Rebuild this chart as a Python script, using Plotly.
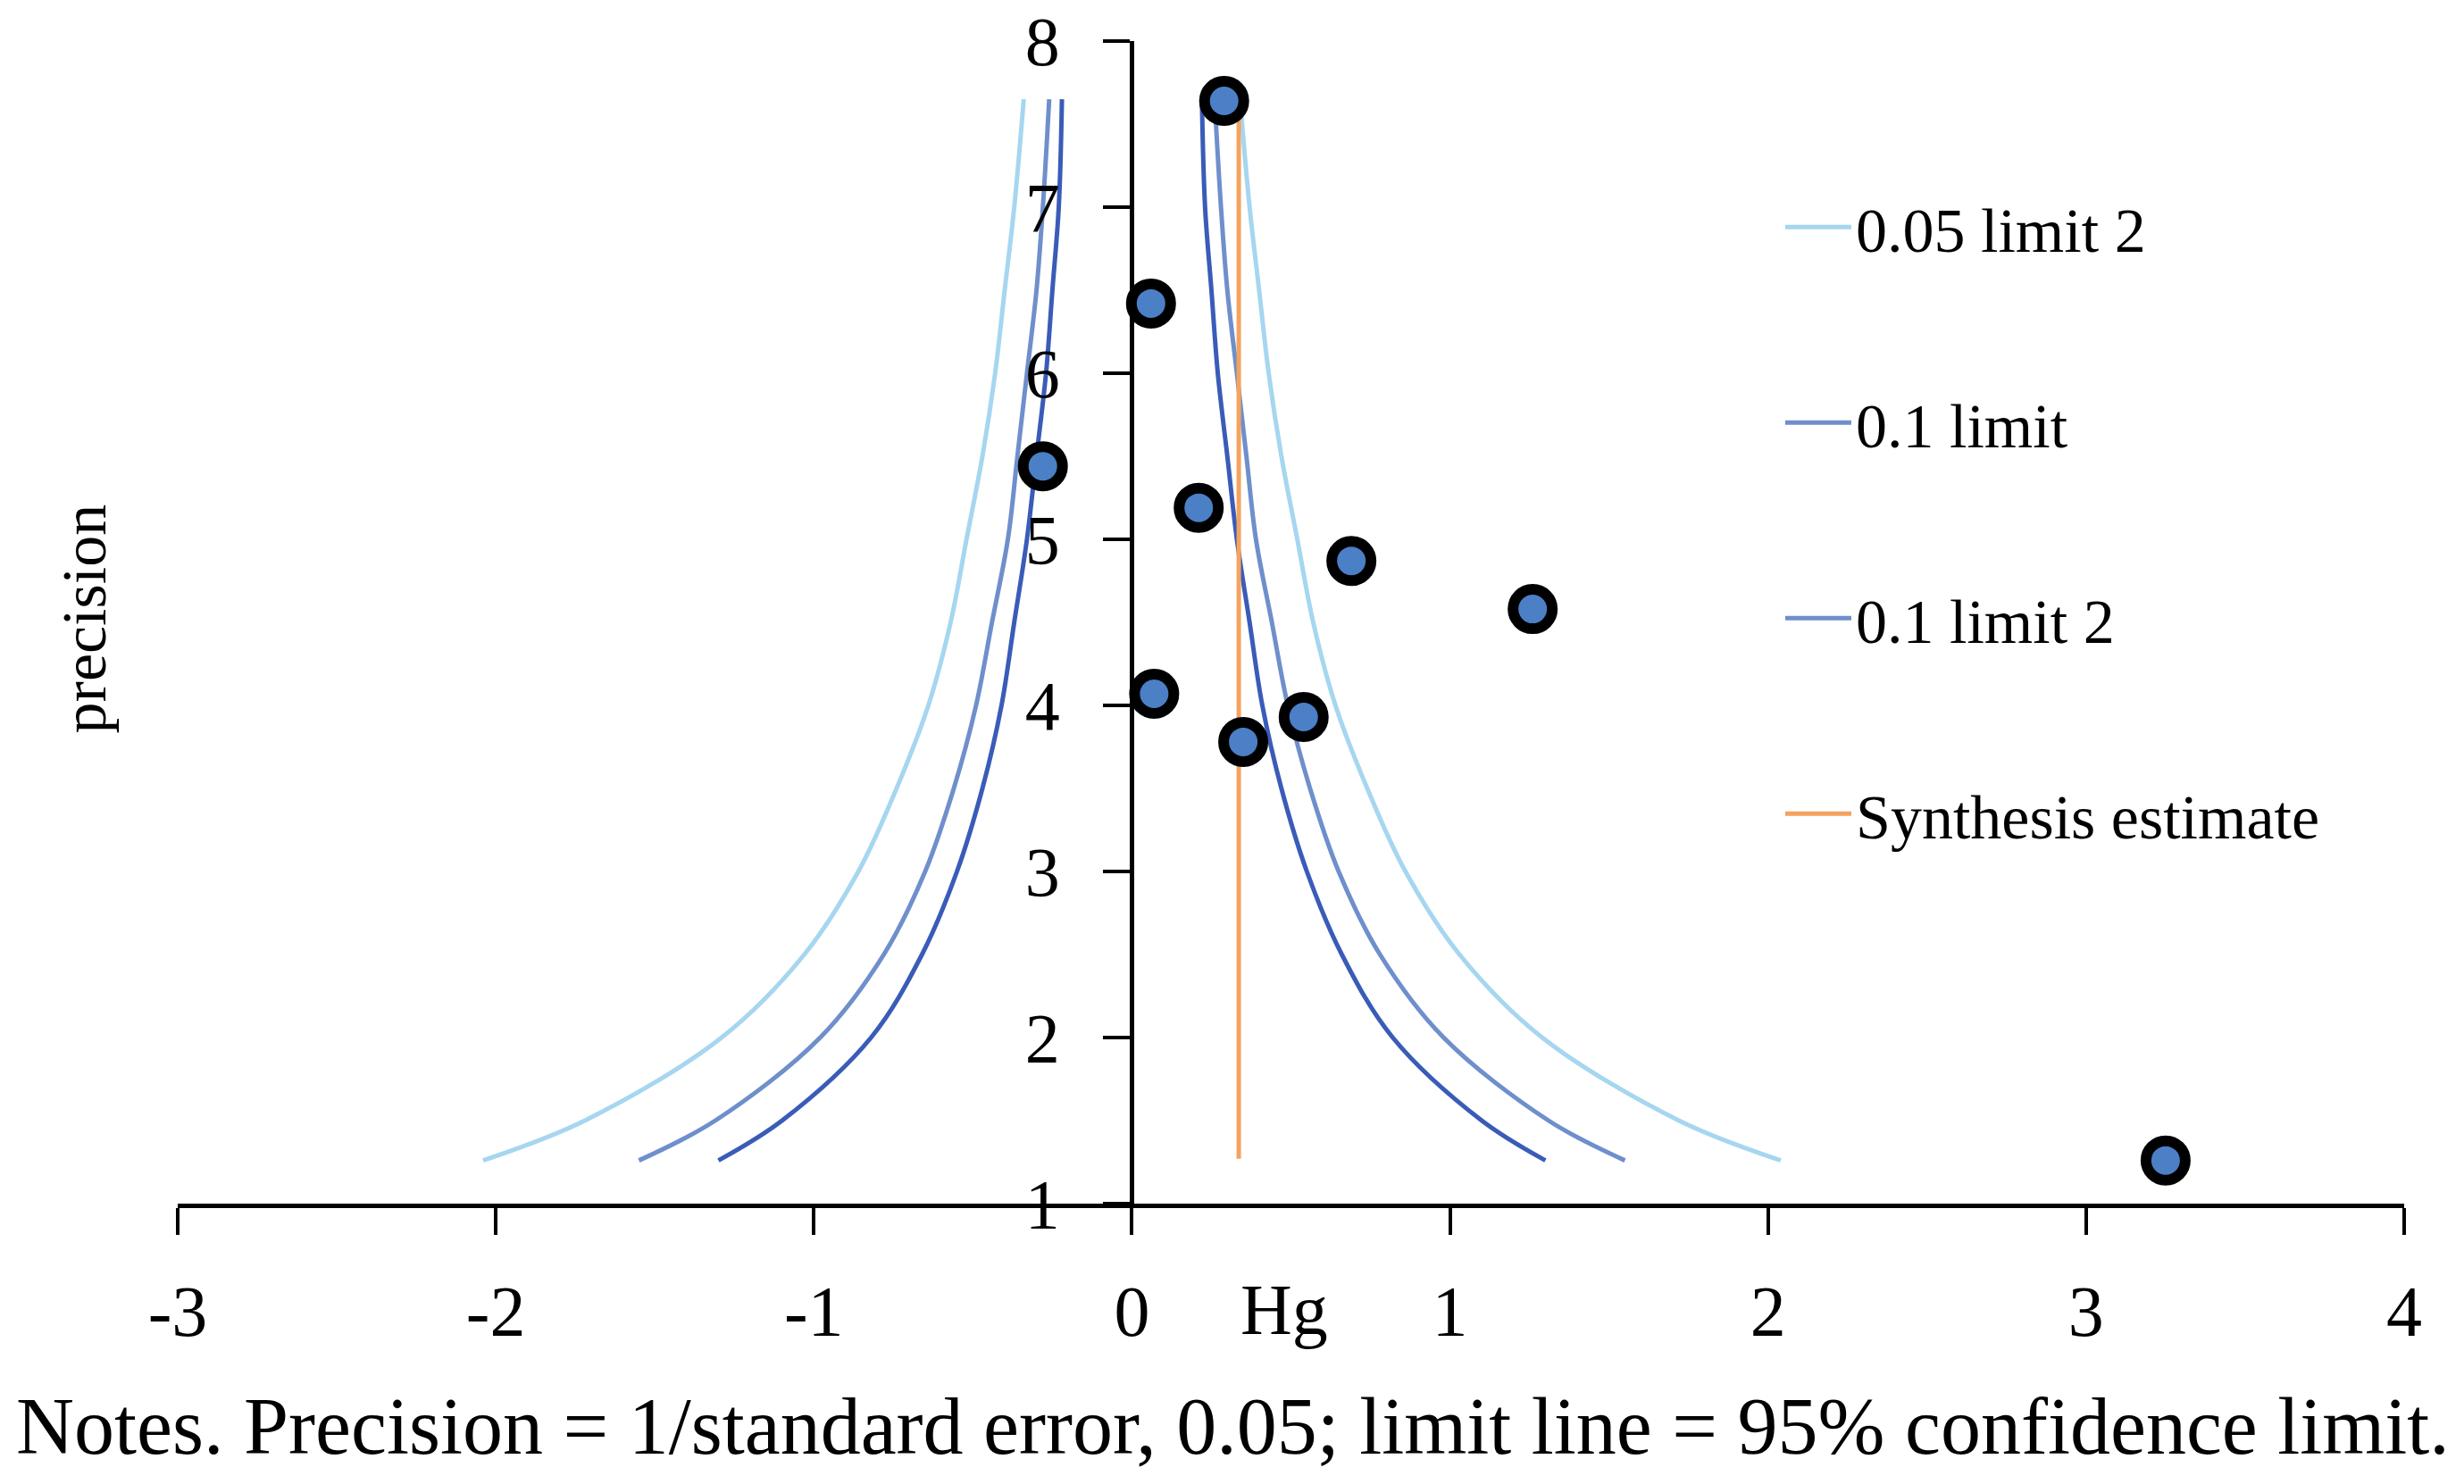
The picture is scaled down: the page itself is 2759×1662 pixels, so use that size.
import plotly.graph_objects as go

# study points (Hg effect size vs precision = 1/SE)
hg = [0.29, 0.06, -0.28, 0.21, 0.69, 1.26, 0.07, 0.54, 0.35, 3.25]
precision = [7.64, 6.42, 5.44, 5.19, 4.87, 4.58, 4.07, 3.93, 3.78, 1.26]

# funnel limit curves (half-widths at each precision)
curve_prec = [1.26, 1.5, 2.0, 2.5, 3.0, 3.5, 4.0, 4.5, 5.0, 5.5, 6.0, 6.5, 7.0, 7.65]
outer_half = [2.04, 1.72, 1.29, 1.03, 0.86, 0.74, 0.64, 0.57, 0.52, 0.47, 0.43, 0.40, 0.37, 0.34]
middle_half = [1.55, 1.31, 0.98, 0.78, 0.65, 0.56, 0.49, 0.44, 0.39, 0.36, 0.33, 0.30, 0.28, 0.26]
inner_half = [1.30, 1.10, 0.82, 0.66, 0.55, 0.47, 0.41, 0.37, 0.33, 0.30, 0.27, 0.25, 0.23, 0.22]

# synthesis estimate
synth_x = [0.336, 0.336]
synth_y = [1.27, 7.63]

x_ticks = [-3, -2, -1, 0, 1, 2, 3, 4]
x_ticktext = ["-3", "-2", "-1", "0", "1", "2", "3", "4"]
y_ticks = [1, 2, 3, 4, 5, 6, 7, 8]

LIGHT = "#a6d6f0"
MID = "#6f8fcc"
DARK = "#3a5cb8"
ORANGE = "#f4a35f"
FONT = "Liberation Serif"

fig = go.Figure()

def limit(xs, name, color, show, group):
    fig.add_trace(go.Scatter(
        x=xs, y=curve_prec, mode="lines", name=name,
        line=dict(color=color, width=5, shape="spline"),
        showlegend=show, legendgroup=group, hoverinfo="skip",
    ))

limit([-v for v in outer_half], "0.05 limit", LIGHT, False, "a")
limit(outer_half, "0.05 limit 2", LIGHT, True, "a")
limit([-v for v in middle_half], "0.1 limit", MID, True, "b")
limit(middle_half, "0.1 limit 2", MID, True, "c")
limit([-v for v in inner_half], "0.01 limit", DARK, False, "x")
limit(inner_half, "0.01 limit 2", DARK, False, "x")

fig.add_trace(go.Scatter(
    x=synth_x, y=synth_y, mode="lines", name="Synthesis estimate",
    line=dict(color=ORANGE, width=5), legendgroup="d",
))

fig.add_trace(go.Scatter(
    x=hg, y=precision, mode="markers", name="studies", showlegend=False,
    marker=dict(size=44, color="#4b7fc6", line=dict(color="black", width=12)),
))

fig.update_layout(
    width=2759, height=1662,
    margin=dict(l=199, r=67, t=46, b=314),
    paper_bgcolor="white", plot_bgcolor="white",
    font=dict(family=FONT, color="black", size=70),
    legend=dict(
        x=0.72, y=0.880, xanchor="left", yanchor="top",
        font=dict(family=FONT, size=70), itemwidth=74,
        tracegroupgap=125, traceorder="grouped",
        bgcolor="rgba(0,0,0,0)",
    ),
    xaxis=dict(
        range=[-3, 4], tickvals=x_ticks, ticktext=x_ticktext,
        showgrid=False, zeroline=False, showline=True,
        linecolor="black", linewidth=5, automargin=False,
        ticks="outside", ticklen=30, tickwidth=4, tickcolor="black",
        tickfont=dict(family=FONT, size=80), ticklabelstandoff=17,
    ),
    yaxis=dict(
        range=[1, 8], tickvals=y_ticks,
        anchor="free", position=3 / 7,
        showgrid=False, zeroline=False, showline=True,
        linecolor="black", linewidth=5, automargin=False,
        ticks="outside", ticklen=30, tickwidth=4, tickcolor="black",
        tickfont=dict(family=FONT, size=78), ticklabelstandoff=33,
        ticklabeloverflow="allow",
    ),
    annotations=[
        dict(text="precision", xref="paper", yref="paper", x=-0.042, y=0.503,
             textangle=-90, showarrow=False, font=dict(family=FONT, size=70),
             xanchor="center", yanchor="middle"),
        dict(text="Hg", xref="x", yref="paper", x=0.48, y=-0.0914,
             showarrow=False, font=dict(family=FONT, size=80),
             xanchor="center", yanchor="middle"),
        dict(text="Notes. Precision = 1/standard error, 0.05; limit line = 95% confidence limit.",
             xref="paper", yref="paper", x=0.474, y=-0.192,
             showarrow=False, font=dict(family=FONT, size=90),
             xanchor="center", yanchor="middle"),
    ],
)

# drop the default page margin so the figure fills the window exactly
fig.write_html("out.html", config={"displayModeBar": False},
               post_script="document.body.style.margin = '0';")
